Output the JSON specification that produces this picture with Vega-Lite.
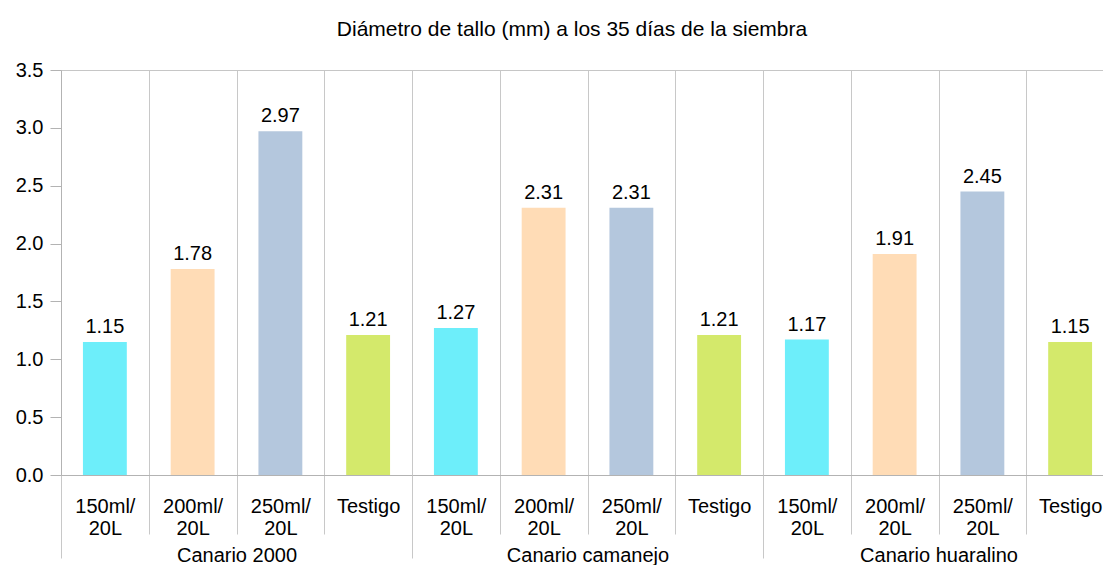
{
  "$schema": "https://vega.github.io/schema/vega-lite/v6.json",
  "width": 1042,
  "height": 405,
  "autosize": {"type": "none"},
  "padding": {"left": 61, "top": 70, "right": 0, "bottom": 90},
  "background": "white",
  "title": {
    "text": "Diámetro de tallo (mm) a los 35 días de la siembra",
    "font": "Liberation Sans",
    "fontSize": 21,
    "fontWeight": "normal",
    "color": "black",
    "anchor": "middle",
    "frame": "group",
    "dx": -10,
    "offset": 20
  },
  "config": {"view": {"stroke": null}, "font": "Liberation Sans"},
  "data": {
    "values": [
      {"clave": "Canario 2000|150ml/|20L", "grupo": "Canario 2000", "trat": "150ml/20L", "valor": 1.15},
      {"clave": "Canario 2000|200ml/|20L", "grupo": "Canario 2000", "trat": "200ml/20L", "valor": 1.78},
      {"clave": "Canario 2000|250ml/|20L", "grupo": "Canario 2000", "trat": "250ml/20L", "valor": 2.97},
      {"clave": "Canario 2000|Testigo", "grupo": "Canario 2000", "trat": "Testigo", "valor": 1.21},
      {"clave": "Canario camanejo|150ml/|20L", "grupo": "Canario camanejo", "trat": "150ml/20L", "valor": 1.27},
      {"clave": "Canario camanejo|200ml/|20L", "grupo": "Canario camanejo", "trat": "200ml/20L", "valor": 2.31},
      {"clave": "Canario camanejo|250ml/|20L", "grupo": "Canario camanejo", "trat": "250ml/20L", "valor": 2.31},
      {"clave": "Canario camanejo|Testigo", "grupo": "Canario camanejo", "trat": "Testigo", "valor": 1.21},
      {"clave": "Canario huaralino|150ml/|20L", "grupo": "Canario huaralino", "trat": "150ml/20L", "valor": 1.17},
      {"clave": "Canario huaralino|200ml/|20L", "grupo": "Canario huaralino", "trat": "200ml/20L", "valor": 1.91},
      {"clave": "Canario huaralino|250ml/|20L", "grupo": "Canario huaralino", "trat": "250ml/20L", "valor": 2.45},
      {"clave": "Canario huaralino|Testigo", "grupo": "Canario huaralino", "trat": "Testigo", "valor": 1.15}
    ]
  },
  "encoding": {
    "y": {
      "field": "valor",
      "type": "quantitative",
      "scale": {"domain": [0, 3.5], "nice": false, "zero": true},
      "axis": {
        "title": null,
        "values": [0, 0.5, 1, 1.5, 2, 2.5, 3, 3.5],
        "format": ".1f",
        "grid": true,
        "gridColor": "#c6c6c6",
        "gridOpacity": {"condition": {"test": "datum.value == 3.5", "value": 1}, "value": 0},
        "tickColor": "#b3b3b3",
        "tickSize": 11,
        "domainColor": "#b3b3b3",
        "labelFont": "Liberation Sans",
        "labelFontSize": 20,
        "labelColor": "black",
        "labelPadding": 7
      }
    }
  },
  "layer": [
    {
      "mark": {"type": "bar", "width": {"band": 0.5}},
      "encoding": {
        "x": {
          "field": "clave",
          "type": "nominal",
          "sort": null,
          "scale": {"paddingInner": 0, "paddingOuter": 0, "range": [0, 1053]},
          "axis": {
            "orient": "bottom",
            "title": null,
            "labelAngle": 0,
            "tickBand": "extent",
            "grid": true,
            "gridColor": "#c8c8c8",
            "tickColor": "#c8c8c8",
            "tickSize": 59,
            "domainColor": "#b3b3b3",
            "labelFont": "Liberation Sans",
            "labelFontSize": 20,
            "labelColor": "black",
            "labelPadding": -38,
            "labelLineHeight": 22,
            "labelOverlap": false,
            "labelExpr": "slice(split(datum.label, '|'), 1)"
          }
        },
        "color": {
          "field": "trat",
          "type": "nominal",
          "scale": {
            "domain": ["150ml/20L", "200ml/20L", "250ml/20L", "Testigo"],
            "range": ["#6DEEFA", "#FFDCB6", "#B4C7DD", "#D4E96B"]
          },
          "legend": null
        }
      }
    },
    {
      "mark": {"type": "text", "fontSize": 20, "font": "Liberation Sans", "color": "black", "baseline": "alphabetic", "dy": -9},
      "encoding": {
        "x": {
          "field": "clave",
          "type": "nominal",
          "sort": null,
          "scale": {"paddingInner": 0, "paddingOuter": 0, "range": [0, 1053]},
          "axis": null
        },
        "text": {"field": "valor", "type": "quantitative", "format": ".2f"}
      }
    },
    {
      "mark": {"type": "point", "opacity": 0},
      "encoding": {
        "x": {
          "field": "grupo",
          "type": "nominal",
          "sort": null,
          "scale": {"paddingInner": 0, "paddingOuter": 0, "range": [0, 1053]},
          "axis": {
            "orient": "bottom",
            "title": null,
            "labelAngle": 0,
            "tickBand": "extent",
            "grid": false,
            "domain": false,
            "tickColor": "#c8c8c8",
            "tickSize": 83,
            "labelFont": "Liberation Sans",
            "labelFontSize": 20,
            "labelColor": "black",
            "labelPadding": -13,
            "labelOverlap": false
          }
        }
      }
    }
  ],
  "resolve": {"scale": {"x": "independent"}, "axis": {"x": "independent"}}
}
